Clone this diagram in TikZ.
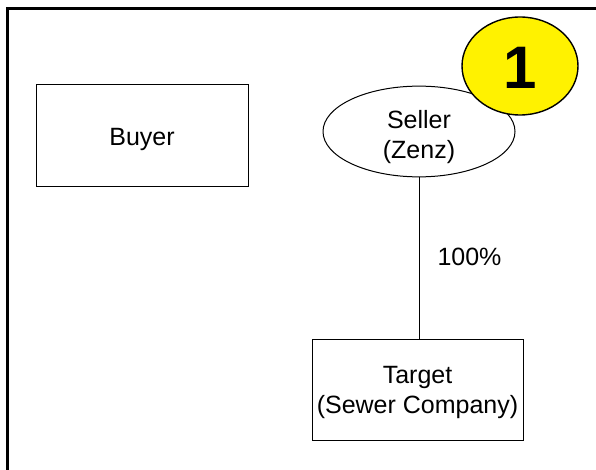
\documentclass[tikz,border=0pt]{standalone}
\usepackage{fontspec}
\setmainfont{Liberation Sans}
\usetikzlibrary{shapes.geometric}

\tikzset{
	party/.style={draw,line width=1pt,align=center,font=\fontsize{25}{30}\selectfont,inner sep=0pt},
	badge/.style={draw,ellipse,fill=yellow,line width=1.4pt,inner sep=0pt,font=\fontsize{60}{60}\selectfont\bfseries}
}

\begin{document}
\begin{tikzpicture}[x=1pt,y=-1pt]
	\useasboundingbox (0,0) rectangle (596,470);
\draw[line width=3pt] (7.5,470) -- (7.5,8.5) -- (596,8.5);
\node[party,minimum width=212pt,minimum height=102pt] (buyer) at (142,136) {\rule{0pt}{24pt}Buyer};
\node[party,ellipse,minimum width=192pt,minimum height=81pt] (seller) at (419,131.5) {\rule{0pt}{29pt}Seller\\(Zenz)};
\node[party,minimum width=211pt,minimum height=101pt] (target) at (417.5,389.5) {\rule{0pt}{23pt}Target\\(Sewer Company)};
	\draw[line width=1pt] (seller.south) -- (seller.south |- target.north);
	\node[font=\fontsize{25}{30}\selectfont] (own) at (469.5,257) {100\%};
	\node[badge,minimum width=116pt,minimum height=98pt] (step1) at (520,66) {\rule{0pt}{46pt}1};
\end{tikzpicture}
\end{document}
